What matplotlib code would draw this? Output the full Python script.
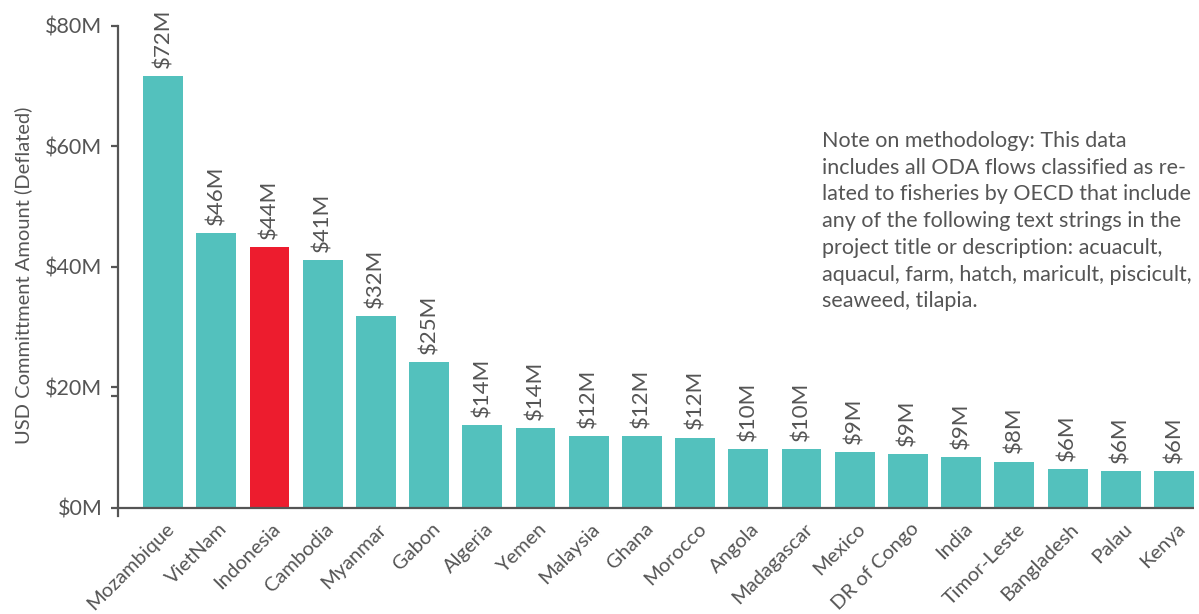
import matplotlib
matplotlib.use("Agg")
import matplotlib.pyplot as plt
from matplotlib.transforms import ScaledTranslation

countries = ["Mozambique", "VietNam", "Indonesia", "Cambodia", "Myanmar", "Gabon",
             "Algeria", "Yemen", "Malaysia", "Ghana", "Morocco", "Angola",
             "Madagascar", "Mexico", "DR of Congo", "India", "Timor-Leste",
             "Bangladesh", "Palau", "Kenya"]
values = [71.7, 45.6, 43.3, 41.1, 31.8, 24.2, 13.7, 13.2, 11.9, 11.9, 11.6, 9.75,
          9.75, 9.25, 8.9, 8.4, 7.6, 6.4, 6.1, 6.1]
value_labels = ["$72M", "$46M", "$44M", "$41M", "$32M", "$25M", "$14M", "$14M",
                "$12M", "$12M", "$12M", "$10M", "$10M", "$9M", "$9M", "$9M",
                "$8M", "$6M", "$6M", "$6M"]
highlight = "Indonesia"
y_ticks = [0, 20, 40, 60, 80]
y_tick_labels = ["$0M", "$20M", "$40M", "$60M", "$80M"]
y_title = "USD Committment Amount (Deflated)"
note = ("Note on methodology: This data\n"
        "includes all ODA flows classified as re-\n"
        "lated to fisheries by OECD that include\n"
        "any of the following text strings in the\n"
        "project title or description: acuacult,\n"
        "aquacul, farm, hatch, maricult, piscicult,\n"
        "seaweed, tilapia.")

TEAL = "#53c1bd"
RED = "#ed1c2e"
GREY = "#555555"
FONT = ["Lato", "DejaVu Sans"]
plt.rcParams["font.family"] = FONT

fig = plt.figure(figsize=(11.99, 6.14), dpi=100)
ax = fig.add_axes([0.0982, 0.1596, 0.8976, 0.7981])

x = list(range(len(countries)))
colors = [RED if c == highlight else TEAL for c in countries]
ax.bar(x, values, width=0.75, color=colors, zorder=2)

for xi, v, lab in zip(x, values, value_labels):
    ax.annotate(lab, (xi, v), xytext=(0, 6), textcoords="offset points",
                rotation=90, ha="center", va="bottom", fontsize=16, color=GREY)

ax.set_xlim(-0.852, 19.376)
ax.set_ylim(-1.4, 80)
ax.axhline(0, color=GREY, lw=1.6, zorder=3, xmin=0, xmax=1)

for s in ["top", "right", "bottom"]:
    ax.spines[s].set_visible(False)
ax.spines["left"].set_color(GREY)
ax.spines["left"].set_linewidth(1.6)

ax.set_yticks(y_ticks)
ax.set_yticklabels(y_tick_labels, fontsize=15.5, color=GREY)
ax.set_yticks([18.5], minor=True)
ax.tick_params(axis="y", which="both", length=5, width=1.6, color=GREY, pad=6)

ax.set_xticks(x)
ax.set_xticklabels(countries, fontsize=14.5, color=GREY, rotation=45,
                   ha="right", va="top", rotation_mode="anchor")
ax.tick_params(axis="x", length=0, pad=3)
offset = ScaledTranslation(2 / 100, 0, fig.dpi_scale_trans)
for lbl in ax.get_xticklabels():
    lbl.set_transform(lbl.get_transform() + offset)

fig.text(23 / 1199, 1 - 275 / 614, y_title, rotation=90, ha="center", va="center",
         fontsize=14.5, color=GREY)

fig.text(822 / 1199, 1 - 131 / 614, note, ha="left", va="top", fontsize=15.5,
         color=GREY, linespacing=1.42)

fig.savefig("out.png", dpi=100)
